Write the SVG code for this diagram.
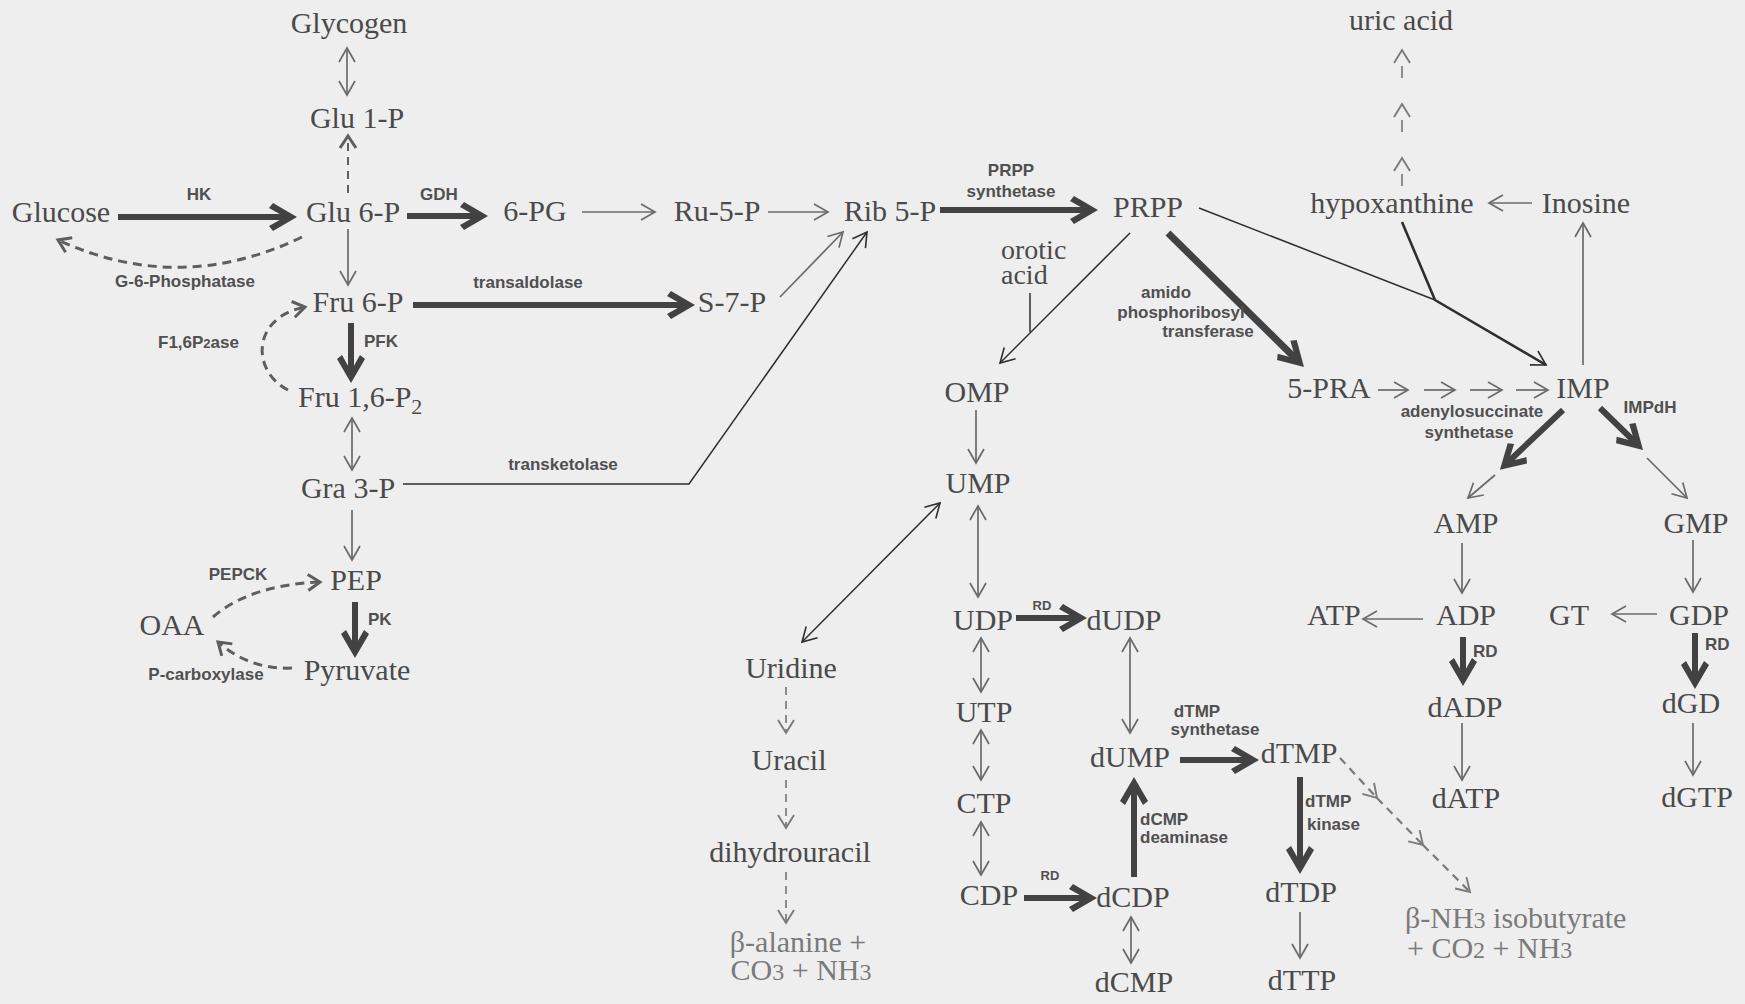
<svg xmlns="http://www.w3.org/2000/svg" width="1745" height="1004" viewBox="0 0 1745 1004">
<style>
.n{font-family:"Liberation Serif","Times New Roman",serif;font-size:30px;fill:#4a4a4a;text-anchor:middle}
.ns{font-family:"Liberation Serif","Times New Roman",serif;font-size:30px;fill:#7a7a7a}
.lb{font-family:"Liberation Sans",Arial,sans-serif;font-size:17px;font-weight:bold;fill:#505050;text-anchor:middle}
.ls{font-family:"Liberation Sans",Arial,sans-serif;font-size:17px;font-weight:bold;fill:#505050}
.t{stroke:#6a6a6a;stroke-width:1.7;fill:none}
.td{stroke:#6a6a6a;stroke-width:1.7;fill:none;marker-end:url(#ah);marker-start:url(#ah)}
.ta{stroke:#6a6a6a;stroke-width:1.7;fill:none;marker-end:url(#ah)}
.k{stroke:#2e2e2e;stroke-width:1.5;fill:none}
.kk{stroke:#2e2e2e;stroke-width:2.6;fill:none}
.B{stroke:#424242;stroke-width:6;fill:none;marker-end:url(#bh)}
.D{stroke:#5e5e5e;stroke-width:3;fill:none;stroke-dasharray:9 6;marker-end:url(#dh)}
.d{stroke:#7a7a7a;stroke-width:1.7;fill:none;stroke-dasharray:8 6;marker-end:url(#ah2)}
</style>
<defs>
<marker id="ah" markerUnits="userSpaceOnUse" viewBox="-16 -10 18 20" refX="0" refY="0" markerWidth="18" markerHeight="20" orient="auto-start-reverse" overflow="visible"><path d="M-14,-8 L0,0 L-14,8" fill="none" stroke="#6a6a6a" stroke-width="1.7"/></marker>
<marker id="ah2" markerUnits="userSpaceOnUse" viewBox="-16 -10 18 20" refX="0" refY="0" markerWidth="18" markerHeight="20" orient="auto" overflow="visible"><path d="M-13,-8 L0,0 L-13,8" fill="none" stroke="#7a7a7a" stroke-width="1.9"/></marker>
<marker id="kh" markerUnits="userSpaceOnUse" viewBox="-16 -10 18 20" refX="0" refY="0" markerWidth="18" markerHeight="20" orient="auto-start-reverse" overflow="visible"><path d="M-14,-8 L0,0 L-14,8" fill="none" stroke="#2e2e2e" stroke-width="1.6"/></marker>
<marker id="dh" markerUnits="userSpaceOnUse" viewBox="-16 -10 18 20" refX="0" refY="0" markerWidth="18" markerHeight="20" orient="auto" overflow="visible"><path d="M-12,-8 L0,0 L-12,8" fill="none" stroke="#5e5e5e" stroke-width="3"/></marker>
<marker id="bh" markerUnits="userSpaceOnUse" viewBox="-25 -16 35 32" refX="0" refY="0" markerWidth="35" markerHeight="32" orient="auto" overflow="visible"><path d="M7,0 L-17,-14 L-21,-9 L-5,0 L-21,9 L-17,14 Z" fill="#424242"/></marker>
</defs>
<rect width="1745" height="1004" fill="#eeeeee"/>

<g id="connectors">
<line class="td" x1="347" y1="48" x2="347" y2="95"/>
<line class="ta" x1="348" y1="229" x2="348" y2="285"/>
<line class="td" x1="352" y1="418" x2="352" y2="470"/>
<line class="ta" x1="352" y1="510" x2="352" y2="560"/>
<line class="ta" x1="582" y1="212" x2="655" y2="212"/>
<line class="ta" x1="768" y1="212" x2="828" y2="212"/>
<line class="ta" x1="780" y1="297" x2="843" y2="232"/>
<line class="ta" x1="976" y1="410" x2="976" y2="463"/>
<line class="td" x1="978" y1="506" x2="978" y2="597"/>
<line class="td" x1="981" y1="638" x2="981" y2="692"/>
<line class="td" x1="981" y1="730" x2="981" y2="780"/>
<line class="td" x1="981" y1="822" x2="981" y2="875"/>
<line class="td" x1="1130" y1="638" x2="1130" y2="733"/>
<line class="td" x1="1131" y1="917" x2="1131" y2="963"/>
<line class="ta" x1="1300" y1="912" x2="1300" y2="958"/>
<line class="ta" x1="1462" y1="543" x2="1462" y2="593"/>
<line class="ta" x1="1423" y1="619" x2="1363" y2="619"/>
<line class="ta" x1="1462" y1="723" x2="1462" y2="780"/>
<line class="ta" x1="1693" y1="540" x2="1693" y2="592"/>
<line class="ta" x1="1657" y1="614" x2="1612" y2="614"/>
<line class="ta" x1="1693" y1="723" x2="1693" y2="775"/>
<line class="ta" x1="1583" y1="365" x2="1583" y2="223"/>
<line class="ta" x1="1532" y1="203" x2="1489" y2="203"/>
<line class="ta" x1="1378" y1="390" x2="1408" y2="390"/>
<line class="ta" x1="1424" y1="390" x2="1455" y2="390"/>
<line class="ta" x1="1470" y1="390" x2="1502" y2="390"/>
<line class="ta" x1="1516" y1="390" x2="1548" y2="390"/>
<line class="ta" x1="1495" y1="475" x2="1468" y2="498"/>
<line class="ta" x1="1647" y1="458" x2="1687" y2="498"/>

<line class="k" x1="802" y1="642" x2="940" y2="503" marker-start="url(#kh)" marker-end="url(#kh)"/>
<line class="k" x1="1130" y1="233" x2="1000" y2="363" marker-end="url(#kh)"/>
<line class="k" x1="1030" y1="293" x2="1030" y2="332"/>
<polyline class="k" points="403,484 689,484 867,232" marker-end="url(#kh)"/>
<line class="k" x1="1199" y1="208" x2="1435" y2="300"/>
<line class="kk" x1="1435" y1="300" x2="1546" y2="365" marker-end="url(#kh)"/>
<line class="kk" x1="1402" y1="222" x2="1435" y2="300"/>

<line class="D" x1="348" y1="193" x2="348" y2="136" style="stroke-width:2;stroke-dasharray:8 6"/>
<path class="D" d="M302,237 Q180,296 58,240"/>
<path class="D" d="M288,390 C252,372 250,318 305,307"/>
<path class="D" d="M213,617 Q250,585 320,582"/>
<path class="D" d="M292,668 Q250,670 218,642"/>
<line class="d" x1="786" y1="687" x2="786" y2="733"/>
<line class="d" x1="786" y1="780" x2="786" y2="828"/>
<line class="d" x1="786" y1="872" x2="786" y2="923"/>
<line class="d" x1="1402" y1="78" x2="1402" y2="50" style="stroke-dasharray:12 60"/>
<line class="d" x1="1402" y1="132" x2="1402" y2="104" style="stroke-dasharray:12 60"/>
<line class="d" x1="1402" y1="186" x2="1402" y2="158" style="stroke-dasharray:12 60"/>
<line class="d" x1="1340" y1="758" x2="1377" y2="798" style="stroke-width:2.2"/>
<line class="d" x1="1377" y1="798" x2="1423" y2="845" style="stroke-width:2.2"/>
<line class="d" x1="1423" y1="845" x2="1470" y2="892" style="stroke-width:2.2"/>

<line class="B" x1="118" y1="217" x2="290" y2="217"/>
<line class="B" x1="407" y1="216" x2="481" y2="216"/>
<line class="B" x1="413" y1="305" x2="688" y2="305"/>
<line class="B" x1="351" y1="323" x2="351" y2="376"/>
<line class="B" x1="355" y1="602" x2="355" y2="651"/>
<line class="B" x1="940" y1="210" x2="1091" y2="210"/>
<line class="B" x1="1168" y1="233" x2="1299" y2="362" style="stroke-width:7"/>
<line class="B" x1="1016" y1="618" x2="1080" y2="618"/>
<line class="B" x1="1024" y1="898" x2="1090" y2="898"/>
<line class="B" x1="1134" y1="877" x2="1134" y2="784"/>
<line class="B" x1="1180" y1="760" x2="1252" y2="760"/>
<line class="B" x1="1300" y1="777" x2="1300" y2="867"/>
<line class="B" x1="1563" y1="410" x2="1505" y2="465"/>
<line class="B" x1="1600" y1="408" x2="1638" y2="445"/>
<line class="B" x1="1463" y1="637" x2="1463" y2="679"/>
<line class="B" x1="1695" y1="633" x2="1695" y2="682"/>
</g>

<g id="labels">
<text class="lb" x="199" y="200">HK</text>
<text class="lb" x="439" y="200">GDH</text>
<text class="lb" x="185" y="287">G-6-Phosphatase</text>
<text class="lb" x="528" y="288">transaldolase</text>
<text class="ls" x="158" y="348">F1,6P<tspan font-size="13">2</tspan>ase</text>
<text class="ls" x="364" y="347">PFK</text>
<text class="lb" x="563" y="470">transketolase</text>
<text class="lb" x="238" y="580">PEPCK</text>
<text class="ls" x="368" y="625">PK</text>
<text class="lb" x="206" y="680">P-carboxylase</text>
<text class="lb" x="1011" y="176">PRPP</text>
<text class="lb" x="1011" y="197">synthetase</text>
<text class="lb" x="1166" y="298">amido</text>
<text class="lb" x="1181" y="318">phosphoribosyl</text>
<text class="lb" x="1208" y="337">transferase</text>
<text class="lb" x="1472" y="417">adenylosuccinate</text>
<text class="lb" x="1469" y="438">synthetase</text>
<text class="lb" x="1650" y="413">IMPdH</text>
<text class="lb" x="1042" y="610" style="font-size:13px">RD</text>
<text class="lb" x="1050" y="880" style="font-size:13px">RD</text>
<text class="ls" x="1473" y="657">RD</text>
<text class="ls" x="1705" y="650">RD</text>
<text class="lb" x="1197" y="717">dTMP</text>
<text class="lb" x="1215" y="735">synthetase</text>
<text class="ls" x="1140" y="825">dCMP</text>
<text class="ls" x="1140" y="843">deaminase</text>
<text class="ls" x="1305" y="807">dTMP</text>
<text class="ls" x="1307" y="830">kinase</text>
</g>

<g id="n-glycogen"><text class="n" x="349" y="33">Glycogen</text></g>
<g id="n-glu1p"><text class="n" x="357" y="128">Glu 1-P</text></g>
<g id="n-glucose"><text class="n" x="61" y="222">Glucose</text></g>
<g id="n-glu6p"><text class="n" x="353" y="222">Glu 6-P</text></g>
<g id="n-6pg"><text class="n" x="535" y="221">6-PG</text></g>
<g id="n-ru5p"><text class="n" x="717" y="221">Ru-5-P</text></g>
<g id="n-rib5p"><text class="n" x="890" y="221">Rib 5-P</text></g>
<g id="n-prpp"><text class="n" x="1148" y="217">PRPP</text></g>
<g id="n-fru6p"><text class="n" x="358" y="312">Fru 6-P</text></g>
<g id="n-s7p"><text class="n" x="732" y="312">S-7-P</text></g>
<g id="n-fru16p2"><text class="n" x="298" y="407" style="text-anchor:start">Fru 1,6-P<tspan font-size="22" dy="7">2</tspan></text></g>
<g id="n-gra3p"><text class="n" x="348" y="498">Gra 3-P</text></g>
<g id="n-pep"><text class="n" x="356" y="590">PEP</text></g>
<g id="n-oaa"><text class="n" x="172" y="635">OAA</text></g>
<g id="n-pyruvate"><text class="n" x="357" y="680">Pyruvate</text></g>
<g id="n-orotic"><text class="n" x="1001" y="259" style="text-anchor:start;font-size:28px">orotic</text><text class="n" x="1001" y="284" style="text-anchor:start;font-size:28px">acid</text></g>
<g id="n-omp"><text class="n" x="977" y="402">OMP</text></g>
<g id="n-ump"><text class="n" x="978" y="493">UMP</text></g>
<g id="n-udp"><text class="n" x="983" y="630">UDP</text></g>
<g id="n-dudp"><text class="n" x="1124" y="630">dUDP</text></g>
<g id="n-utp"><text class="n" x="984" y="722">UTP</text></g>
<g id="n-ctp"><text class="n" x="984" y="813">CTP</text></g>
<g id="n-cdp"><text class="n" x="989" y="905">CDP</text></g>
<g id="n-dcdp"><text class="n" x="1133" y="907">dCDP</text></g>
<g id="n-dcmp"><text class="n" x="1134" y="992">dCMP</text></g>
<g id="n-dump"><text class="n" x="1130" y="767">dUMP</text></g>
<g id="n-dtmp"><text class="n" x="1299" y="763">dTMP</text></g>
<g id="n-dtdp"><text class="n" x="1301" y="902">dTDP</text></g>
<g id="n-dttp"><text class="n" x="1302" y="990">dTTP</text></g>
<g id="n-uridine"><text class="n" x="791" y="678">Uridine</text></g>
<g id="n-uracil"><text class="n" x="789" y="770">Uracil</text></g>
<g id="n-dihydrouracil"><text class="n" x="790" y="862">dihydrouracil</text></g>
<g id="n-balanine"><text class="ns" x="798" y="952" style="text-anchor:middle">β-alanine +</text><text class="ns" x="801" y="980" style="text-anchor:middle">CO<tspan font-size="24">3</tspan> + NH<tspan font-size="24">3</tspan></text></g>
<g id="n-bnh3"><text class="ns" x="1405" y="928">β-NH<tspan font-size="24">3</tspan> isobutyrate</text><text class="ns" x="1407" y="958">+ CO<tspan font-size="24">2</tspan> + NH<tspan font-size="24">3</tspan></text></g>
<g id="n-5pra"><text class="n" x="1329" y="398">5-PRA</text></g>
<g id="n-imp"><text class="n" x="1583" y="398">IMP</text></g>
<g id="n-hypoxanthine"><text class="n" x="1392" y="213">hypoxanthine</text></g>
<g id="n-inosine"><text class="n" x="1586" y="213">Inosine</text></g>
<g id="n-uricacid"><text class="n" x="1401" y="30">uric acid</text></g>
<g id="n-amp"><text class="n" x="1466" y="533">AMP</text></g>
<g id="n-gmp"><text class="n" x="1696" y="533">GMP</text></g>
<g id="n-atp"><text class="n" x="1334" y="625">ATP</text></g>
<g id="n-adp"><text class="n" x="1466" y="625">ADP</text></g>
<g id="n-gt"><text class="n" x="1569" y="625">GT</text></g>
<g id="n-gdp"><text class="n" x="1699" y="625">GDP</text></g>
<g id="n-dadp"><text class="n" x="1465" y="717">dADP</text></g>
<g id="n-dgd"><text class="n" x="1691" y="713">dGD</text></g>
<g id="n-datp"><text class="n" x="1466" y="808">dATP</text></g>
<g id="n-dgtp"><text class="n" x="1697" y="807">dGTP</text></g>
</svg>
